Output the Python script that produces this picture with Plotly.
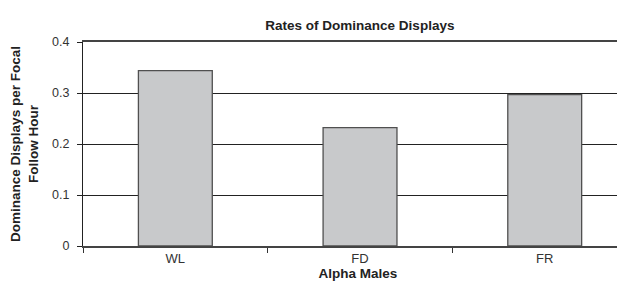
import plotly.graph_objects as go

categories = ["WL", "FD", "FR"]
values = [0.344, 0.232, 0.297]
y_ticks = [0, 0.1, 0.2, 0.3, 0.4]
y_tick_labels = ["0", "0.1", "0.2", "0.3", "0.4"]

FONT = "Liberation Sans, Arial, sans-serif"

fig = go.Figure(
    go.Bar(
        x=categories,
        y=values,
        marker=dict(color="#c8c9cb", line=dict(color="#505050", width=1.3)),
    )
)

fig.update_layout(
    width=625,
    height=281,
    margin=dict(l=75, r=0, t=34, b=43),
    paper_bgcolor="white",
    plot_bgcolor="white",
    bargap=0.6,
    showlegend=False,
    font=dict(family=FONT, color="#222222", size=12),
    title=dict(
        text="<b>Rates of Dominance Displays</b>",
        font=dict(family=FONT, size=13.5, color="#222222"),
        xref="container", x=0.563, xanchor="center",
        yref="container", y=0.94, yanchor="middle",
    ),
)

fig.update_xaxes(
    type="category",
    range=[-0.5, 2.478],
    tickson="boundaries",
    ticks="outside",
    ticklen=5,
    tickcolor="#333333",
    showline=True,
    linecolor="#444444",
    linewidth=1.5,
    mirror=True,
    showgrid=False,
    tickfont=dict(size=13, color="#333333"),
    title=dict(text="<b>Alpha Males</b>", font=dict(size=13.5, color="#222222"), standoff=3),
)

fig.update_yaxes(
    range=[0, 0.4],
    tickvals=y_ticks,
    ticktext=y_tick_labels,
    ticks="outside",
    ticklen=5,
    tickcolor="#222222",
    ticklabelstandoff=5,
    showline=True,
    linecolor="#222222",
    linewidth=1,
    showgrid=True,
    gridcolor="#222222",
    gridwidth=1,
    zeroline=False,
    tickfont=dict(size=12.5, color="#333333"),
    title=dict(
        text="<b>Dominance Displays per Focal<br>Follow Hour</b>",
        font=dict(size=13.5, color="#222222"),
        standoff=10,
    ),
)

fig.write_html("out.html")
